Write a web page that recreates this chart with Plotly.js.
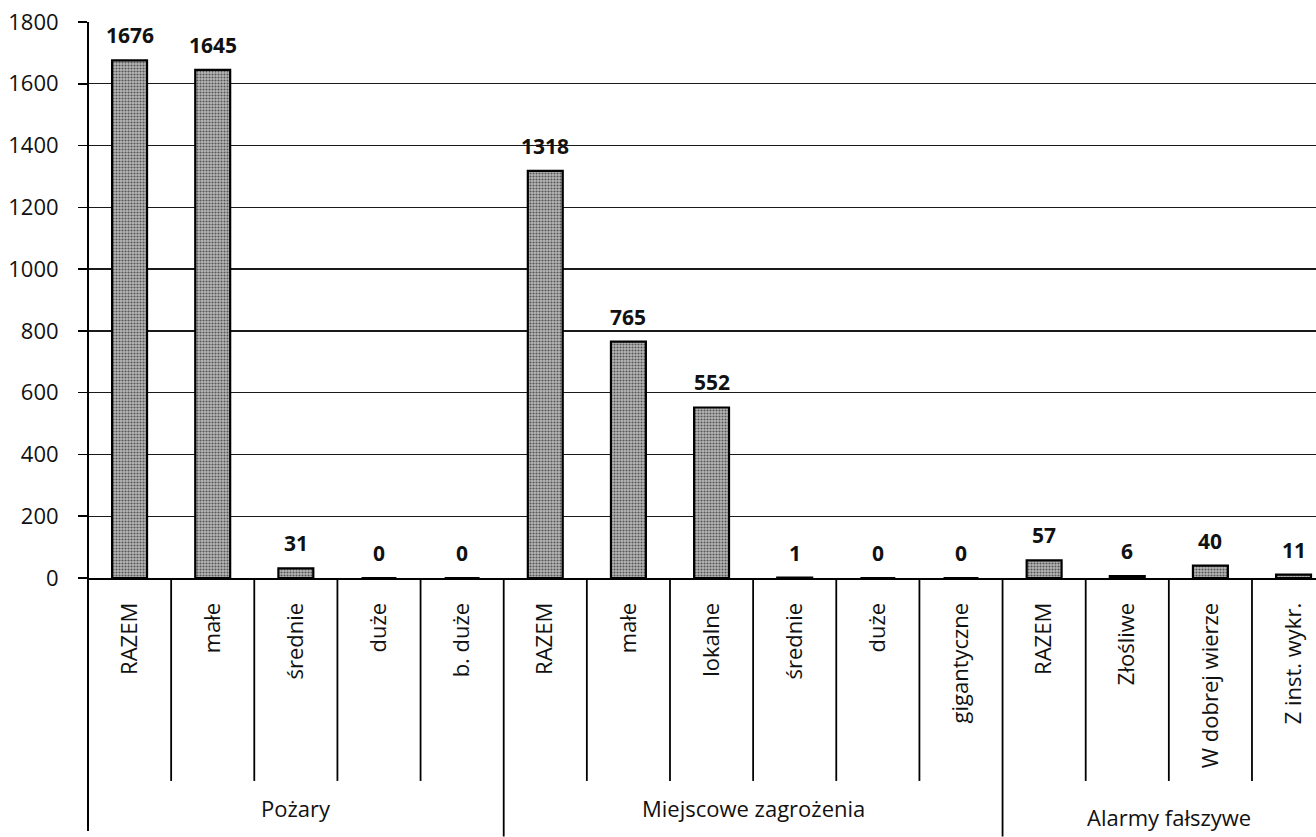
<!DOCTYPE html>
<html>
<head>
<meta charset="utf-8">
<script src="https://cdn.plot.ly/plotly-3.0.1.min.js"></script>
<style>html,body{margin:0;padding:0;background:#fff;}#chart{width:1316px;height:837px;}</style>
</head>
<body>
<div id="chart"></div>
<script>
// ---- data ----
const groups = ["Pożary","Pożary","Pożary","Pożary","Pożary",
  "Miejscowe zagrożenia","Miejscowe zagrożenia","Miejscowe zagrożenia","Miejscowe zagrożenia","Miejscowe zagrożenia","Miejscowe zagrożenia",
  "Alarmy fałszywe","Alarmy fałszywe","Alarmy fałszywe","Alarmy fałszywe"];
const categories = ["RAZEM","małe","średnie","duże","b. duże",
  "RAZEM","małe","lokalne","średnie","duże","gigantyczne",
  "RAZEM","Złośliwe","W dobrej wierze","Z inst. wykr."];
const values = [1676,1645,31,0,0,1318,765,552,1,0,0,57,6,40,11];
const yTicks = [0,200,400,600,800,1000,1200,1400,1600,1800];

// ---- build ----
const idx = categories.map((_, i) => i);
const FONT = "Open Sans";

const trace = {
  type: "bar",
  x: idx,
  y: values,
  width: 0.42,
  marker: {
    color: "#b0b0b0",
    line: {color: "#000", width: 2.2},
    pattern: {shape: ".", fgcolor: "#555", bgcolor: "#b8b8b8", size: 3, solidity: 0.4}
  },
  hoverinfo: "x+y",
  showlegend: false
};

const annotations = values.map((v, i) => ({
  x: i, y: v, xref: "x", yref: "y",
  text: String(v), showarrow: false,
  yanchor: "middle", yshift: 25,
  font: {family: FONT, size: 21, color: "#111", weight: "bold"}
}));

// group spans
const spans = [];
groups.forEach((g, i) => {
  if (!spans.length || spans[spans.length - 1].name !== g) spans.push({name: g, start: i, end: i});
  else spans[spans.length - 1].end = i;
});
spans.forEach((s, k) => {
  annotations.push({
    x: (s.start + s.end) / 2, y: k === spans.length - 1 ? -0.43 : -0.413, xref: "x", yref: "paper",
    text: s.name, showarrow: false, yanchor: "middle",
    font: {family: FONT, size: 22, color: "#111"}
  });
});

const shapes = [];
// y-axis line extended down
shapes.push({type: "line", xref: "paper", yref: "paper", x0: 0, x1: 0, y0: 1, y1: -0.455,
  line: {color: "#000", width: 2}});
const groupStarts = new Set(spans.map(s => s.start));
for (let i = 1; i <= categories.length; i++) {
  const isGroup = groupStarts.has(i);
  shapes.push({type: "line", xref: "x", yref: "paper", x0: i - 0.5, x1: i - 0.5,
    y0: 0, y1: isGroup ? -0.465 : -0.365, line: {color: "#000", width: 1.8}});
}

const layout = {
  width: 1316, height: 837,
  margin: {l: 88, r: 0, t: 22, b: 259},
  paper_bgcolor: "#fff", plot_bgcolor: "#fff",
  font: {family: FONT, color: "#111"},
  xaxis: {
    range: [-0.5, categories.length - 0.73],
    tickvals: idx, ticktext: categories,
    tickangle: -90,
    tickfont: {family: FONT, size: 22, color: "#111"},
    ticks: "outside", ticklen: 14, tickcolor: "rgba(0,0,0,0)",
    showline: true, linecolor: "#000", linewidth: 2,
    showgrid: false, zeroline: false, fixedrange: true
  },
  yaxis: {
    range: [0, 1800],
    tickvals: yTicks,
    tickfont: {family: FONT, size: 22, color: "#111"},
    ticks: "outside", ticklen: 9, tickcolor: "#000", tickwidth: 1.5,
    ticklabelstandoff: 15,
    showgrid: true, gridcolor: "#1a1a1a", gridwidth: 1.3,
    showline: false, zeroline: false, fixedrange: true
  },
  annotations: annotations,
  shapes: shapes
};

Plotly.newPlot("chart", [trace], layout, {displayModeBar: false, staticPlot: true});
</script>
</body>
</html>
